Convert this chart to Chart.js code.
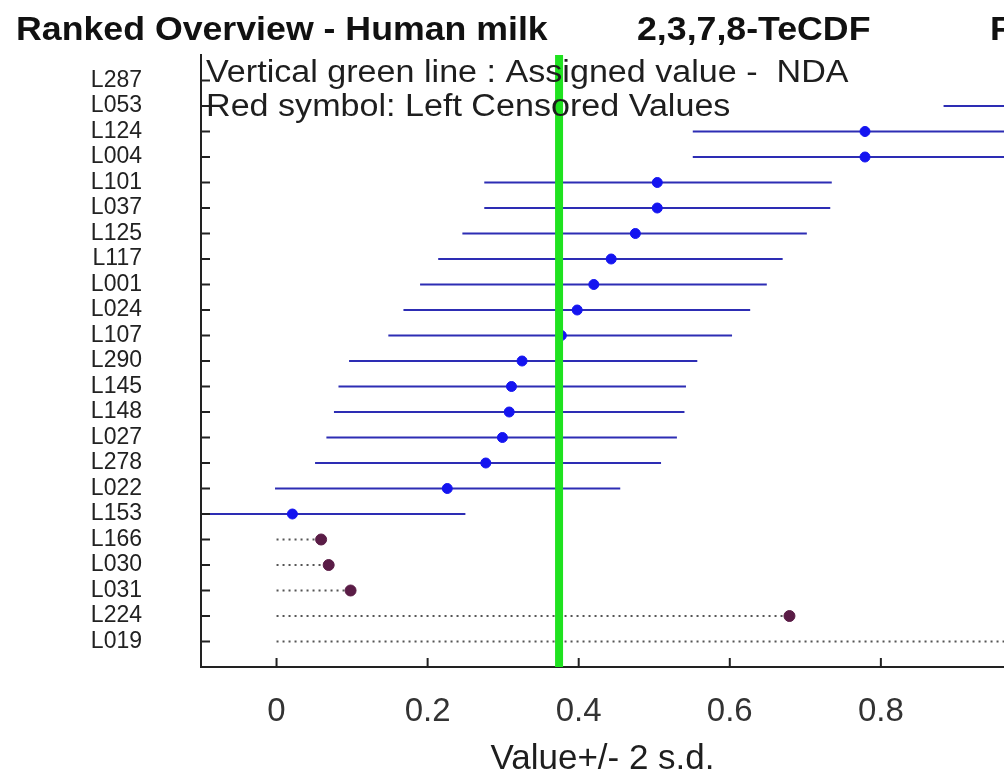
<!DOCTYPE html>
<html>
<head>
<meta charset="utf-8">
<script src="https://cdn.jsdelivr.net/npm/chart.js@4.4.0/dist/chart.umd.min.js"></script>
<style>
  html, body { margin: 0; padding: 0; background: #fff; }
  #wrap { width: 1004px; height: 772px; }
</style>
</head>
<body>
<div id="wrap"><canvas id="rankChart" width="1004" height="772"></canvas></div>
<script>
// labs ranked top to bottom
const labs = ['L287','L053','L124','L004','L101','L037','L125','L117','L001','L024','L107','L290',
              'L145','L148','L027','L278','L022','L153','L166','L030','L031','L224','L019'];
const values = [1.25, 1.11, 0.779, 0.779, 0.504, 0.504, 0.475, 0.443, 0.420, 0.398, 0.377, 0.325,
                0.311, 0.308, 0.299, 0.277, 0.226, 0.021, 0.059, 0.069, 0.098, 0.679, 1.05];
const lower = [1.02, 0.883, 0.551, 0.551, 0.275, 0.275, 0.246, 0.214, 0.190, 0.168, 0.148, 0.096,
               0.082, 0.076, 0.066, 0.051, -0.002, -0.21, 0, 0, 0, 0, 0];
const upper = [1.48, 1.34, 1.007, 1.007, 0.735, 0.733, 0.702, 0.670, 0.649, 0.627, 0.603, 0.557,
               0.542, 0.540, 0.530, 0.509, 0.455, 0.250, 0.059, 0.069, 0.098, 0.679, 1.05];
const censored = [0,0,0,0,0,0,0,0,0,0,0,0,0,0,0,0,0,0,1,1,1,1,1];
const assigned = 0.374;
const xTicks = [0, 0.2, 0.4, 0.6, 0.8];

const FONT = '"Liberation Sans", Arial, sans-serif';

// whisker segments, split with null points
const solidSeg = [], dotSeg = [], markBlue = [], markCens = [];
labs.forEach((lab, i) => {
  const seg = censored[i] ? dotSeg : solidSeg;
  seg.push({x: lower[i], y: i + 1}, {x: upper[i], y: i + 1}, {x: NaN, y: null});
  (censored[i] ? markCens : markBlue).push({x: values[i], y: i + 1});
});

function stretchText(ctx, txt, x, y, font, sx, align) {
  ctx.save();
  ctx.font = font;
  ctx.textAlign = align || 'left';
  ctx.textBaseline = 'alphabetic';
  ctx.translate(x, y);
  ctx.scale(sx, 1);
  ctx.fillText(txt, 0, 0);
  ctx.restore();
}

function noPad(s) {
  s.paddingTop = 0; s.paddingBottom = 0; s.paddingLeft = 0; s.paddingRight = 0;
}

const decor = {
  id: 'decor',
  afterDraw(chart) {
    const ctx = chart.ctx;
    const xs = chart.scales.x, ys = chart.scales.y;
    const area = chart.chartArea;
    // inner tick marks
    ctx.save();
    ctx.strokeStyle = '#222';
    ctx.lineWidth = 2;
    ctx.beginPath();
    labs.forEach((l, i) => {
      const py = ys.getPixelForValue(i + 1);
      ctx.moveTo(area.left, py);
      ctx.lineTo(area.left + 9, py);
    });
    xTicks.forEach(v => {
      const px = xs.getPixelForValue(v);
      ctx.moveTo(px, area.bottom);
      ctx.lineTo(px, area.bottom - 9);
    });
    ctx.stroke();
    ctx.restore();

    ctx.fillStyle = '#111';
    stretchText(ctx, 'Ranked Overview - Human milk', 16, 40, 'bold 34px ' + FONT, 1.05);
    stretchText(ctx, '2,3,7,8-TeCDF', 637, 40, 'bold 34px ' + FONT, 1.05);
    stretchText(ctx, 'F', 990, 40, 'bold 34px ' + FONT, 1.05);

    ctx.fillStyle = '#1e1e1e';
    stretchText(ctx, 'Vertical green line : Assigned value -  NDA', 206, 82, '31px ' + FONT, 1.1);
    stretchText(ctx, 'Red symbol: Left Censored Values', 206, 116, '31px ' + FONT, 1.1);

    stretchText(ctx, 'Value+/- 2 s.d.', (area.left + area.right) / 2, 769, '35px ' + FONT, 1, 'center');
  }
};

new Chart(document.getElementById('rankChart'), {
  type: 'line',
  plugins: [decor],
  data: {
    datasets: [
      {
        label: 'Assigned value',
        data: [{x: assigned, y: 0}, {x: assigned, y: 24}],
        borderColor: '#1fe21f',
        borderWidth: 8,
        pointRadius: 0,
        order: 0
      },
      {
        label: 'Value',
        data: markBlue,
        showLine: false,
        pointRadius: 5,
        pointBackgroundColor: '#1414f0',
        pointBorderColor: '#1414f0',
        pointBorderWidth: 1,
        order: 1
      },
      {
        label: 'Left censored',
        data: markCens,
        showLine: false,
        pointRadius: 5.5,
        pointBackgroundColor: '#5a1c46',
        pointBorderColor: '#5a1c46',
        pointBorderWidth: 1,
        order: 1
      },
      {
        label: '2 s.d.',
        data: solidSeg,
        borderColor: '#2d2db4',
        borderWidth: 2,
        pointRadius: 0,
        spanGaps: false,
        order: 2
      },
      {
        label: 'censored range',
        data: dotSeg,
        borderColor: '#555',
        borderWidth: 2,
        borderDash: [2, 4],
        pointRadius: 0,
        spanGaps: false,
        order: 2
      }
    ]
  },
  options: {
    responsive: false,
    animation: false,
    layout: { autoPadding: false, padding: { top: 55, right: 0, left: 0, bottom: 0 } },
    plugins: {
      legend: { display: false },
      tooltip: { enabled: false },
      title: { display: false }
    },
    scales: {
      x: {
        type: 'linear',
        min: -0.1,
        max: 0.963,
        afterBuildTicks: (s) => { s.ticks = xTicks.map(v => ({value: v})); },
        afterFit: (s) => { s.height = 105; noPad(s); },
        grid: { display: false, drawTicks: false },
        border: { display: true, color: '#222', width: 2 },
        ticks: {
          padding: 25,
          color: '#333',
          font: { family: FONT, size: 33 },
          callback: (v) => String(v)
        }
      },
      y: {
        type: 'linear',
        min: 0,
        max: 24,
        reverse: true,
        afterBuildTicks: (s) => { s.ticks = labs.map((l, i) => ({value: i + 1})); },
        afterFit: (s) => { s.width = 201; noPad(s); },
        grid: { display: false, drawTicks: false },
        border: { display: true, color: '#222', width: 2 },
        ticks: {
          padding: 59,
          color: '#222',
          autoSkip: false,
          font: { family: FONT, size: 23 },
          callback: (v) => labs[v - 1]
        }
      }
    }
  }
});
</script>
</body>
</html>
